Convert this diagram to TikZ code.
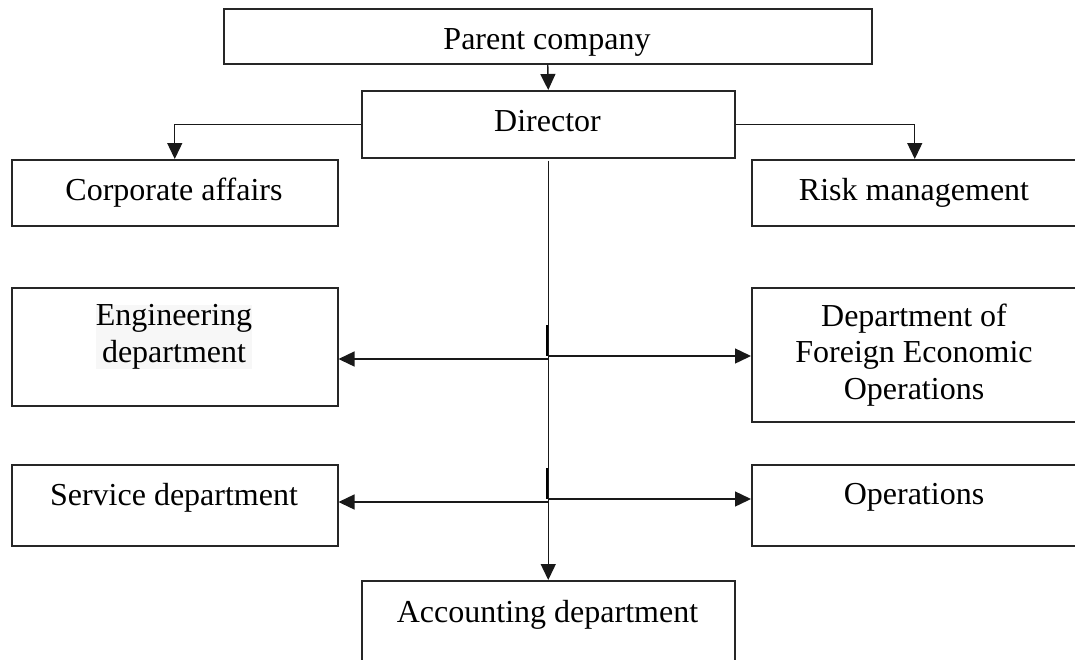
\documentclass[tikz,border=0pt]{standalone}
\usepackage{fontspec}
\setmainfont{Liberation Serif}
\usetikzlibrary{arrows.meta}
\begin{document}
\begin{tikzpicture}[x=1pt,y=-1pt,
  box/.style 2 args={draw=black!85,line width=1.5pt,rectangle,inner sep=0pt,
    minimum width=#1,minimum height=#2,anchor=north west},
  lbl/.style={font=\fontsize{32}{36.5}\selectfont,inner sep=0pt,align=center},
  conn/.style={draw=black!90,line width=1.4pt,-{Triangle[length=16pt,width=15pt]}},
  tickline/.style={draw=black,line width=2.2pt}]
\clip (0,0) rectangle (1075,659);
% boxes
\node[box={648}{55}] (parent) at (223,8) {};
\node[box={373}{67}] (dir) at (361,90) {};
\node[box={326}{66}] (corp) at (11,159) {};
\node[box={326}{66}] (risk) at (751,159) {};
\node[box={326}{118}] (eng) at (11,287) {};
\node[box={326}{134}] (dfeo) at (751,287) {};
\node[box={326}{81}] (serv) at (11,464) {};
\node[box={326}{81}] (ops) at (751,464) {};
\node[box={373}{100}] (acct) at (361,580) {};
% texts
\node[lbl,anchor=base] (tparent) at (547,49) {Parent company};
\node[lbl,anchor=base] (tdir) at (547.5,131) {Director};
\node[lbl,anchor=base] (tcorp) at (174,200) {Corporate affairs};
\node[lbl,anchor=base] (trisk) at (914,200) {Risk management};
\node[lbl,fill=black!3] (teng) at (174,337) {Engineering\\department};
\node[lbl] (tdfeo) at (914,355) {Department of\\Foreign Economic\\Operations};
\node[lbl,anchor=base] (tserv) at (174,505) {Service department};
\node[lbl,anchor=base] (tops) at (914,504) {Operations};
\node[lbl,anchor=base] (tacct) at (547.5,622) {Accounting department};
% connectors
\draw[conn] (parent.south) -- (dir.north);
\draw[conn] (dir.west) -| (corp.north);
\draw[conn] (dir.east) -| (risk.north);
\draw[conn] (dir.south) ++(0,2) coordinate (vtop) (vtop) -- (acct.north);
\coordinate (b1) at (547.5,359);
\coordinate (b1r) at (547.5,356);
\coordinate (t1) at (547,325);
\draw[conn] (b1) -- (b1 -| eng.east);
\draw[conn] (b1r) -- (b1r -| dfeo.west);
\draw[tickline] (t1) -- (t1 |- b1r);
\coordinate (b2) at (547.5,502);
\coordinate (b2r) at (547.5,499);
\coordinate (t2) at (547,468);
\draw[conn] (b2) -- (b2 -| serv.east);
\draw[conn] (b2r) -- (b2r -| ops.west);
\draw[tickline] (t2) -- (t2 |- b2r);
\end{tikzpicture}
\end{document}
